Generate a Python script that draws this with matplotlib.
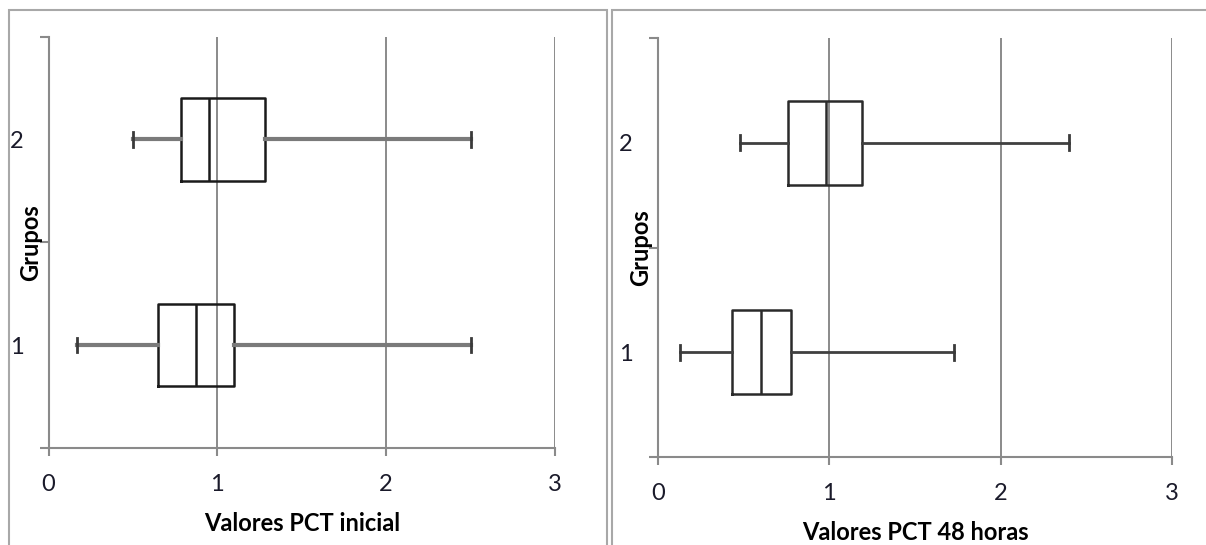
import matplotlib.pyplot as plt
from matplotlib.patches import Rectangle

plt.rcParams['font.family'] = ['Lato', 'DejaVu Sans']

# groups on the y axis
grupos = [1, 2]
grupo_labels = ['1', '2']

# PCT inicial (min, q1, median, q3, max) per group
inicial_min = [0.17, 0.50]
inicial_q1 = [0.65, 0.785]
inicial_med = [0.875, 0.95]
inicial_q3 = [1.10, 1.285]
inicial_max = [2.50, 2.50]

# PCT 48 horas
h48_min = [0.13, 0.48]
h48_q1 = [0.43, 0.757]
h48_med = [0.60, 0.98]
h48_q3 = [0.775, 1.19]
h48_max = [1.73, 2.40]

x_ticks = [0, 1, 2, 3]

W, H = 1206, 545
GRID = '#8a8a8a'


def draw_panel(ax, mins, q1s, meds, q3s, maxs, xlabel, whisk_color, whisk_lw, box_color):
    """draw one box panel in the excel look"""
    stats = []
    for i in range(len(grupos)):
        stats.append(dict(whislo=mins[i], q1=q1s[i], med=meds[i], q3=q3s[i],
                          whishi=maxs[i], fliers=[]))
    ax.bxp(stats, positions=grupos, orientation='horizontal', widths=0.4,
           capwidths=0.07, showfliers=False,
           boxprops=dict(color=box_color, lw=1.8),
           medianprops=dict(color=box_color, lw=1.8),
           whiskerprops=dict(color=whisk_color, lw=whisk_lw),
           capprops=dict(color='#3a3a3a', lw=2))

    ax.set_xlim(0, 3)
    ax.set_ylim(0.5, 2.5)
    ax.set_xticks(x_ticks)
    ax.set_xticklabels([str(t) for t in x_ticks])
    ax.set_yticks(grupos)
    ax.set_yticklabels(grupo_labels)
    ax.set_yticks([0.5, 1.5, 2.5], minor=True)

    ax.set_axisbelow(True)
    ax.grid(axis='x', color=GRID, lw=1.4)
    for side in ['top', 'right']:
        ax.spines[side].set_visible(False)
    for side in ['left', 'bottom']:
        ax.spines[side].set_color(GRID)
        ax.spines[side].set_linewidth(1.5)

    ax.tick_params(axis='x', length=6, width=1.5, color=GRID, pad=13,
                   labelsize=17, labelcolor='#1a1a2a')
    ax.tick_params(axis='y', which='major', length=0, pad=18,
                   labelsize=17, labelcolor='#1a1a2a')
    ax.tick_params(axis='y', which='minor', length=6.5, width=1.5, color=GRID)

    ax.set_xlabel(xlabel, fontsize=17, fontweight='bold', labelpad=12)
    ax.set_ylabel('Grupos', fontsize=17, fontweight='bold')
    ax.yaxis.set_label_coords(-0.012, 0.5)


fig = plt.figure(figsize=(W / 100, H / 100), dpi=100)

ax1 = fig.add_axes([48.5 / W, 1 - 448 / H, (555 - 48.5) / W, (448 - 36.5) / H])
draw_panel(ax1, inicial_min, inicial_q1, inicial_med, inicial_q3, inicial_max,
           'Valores PCT inicial', '#7a7a7a', 3, '#1a1a1a')

ax2 = fig.add_axes([658 / W, 1 - 457 / H, (1172 - 658) / W, (457 - 38) / H])
draw_panel(ax2, h48_min, h48_q1, h48_med, h48_q3, h48_max,
           'Valores PCT 48 horas', '#404040', 2, '#2a2a2a')

# panel frames
fig.add_artist(Rectangle((9 / W, -0.05), (607 - 9) / W, 1.05 - 10 / H,
                         transform=fig.transFigure, fill=False, ec='#a8a8a8', lw=1.5))
fig.add_artist(Rectangle((612 / W, -0.05), 1.0, 1.05 - 10 / H,
                         transform=fig.transFigure, fill=False, ec='#a8a8a8', lw=1.5))

fig.savefig('out.png', dpi=100)
